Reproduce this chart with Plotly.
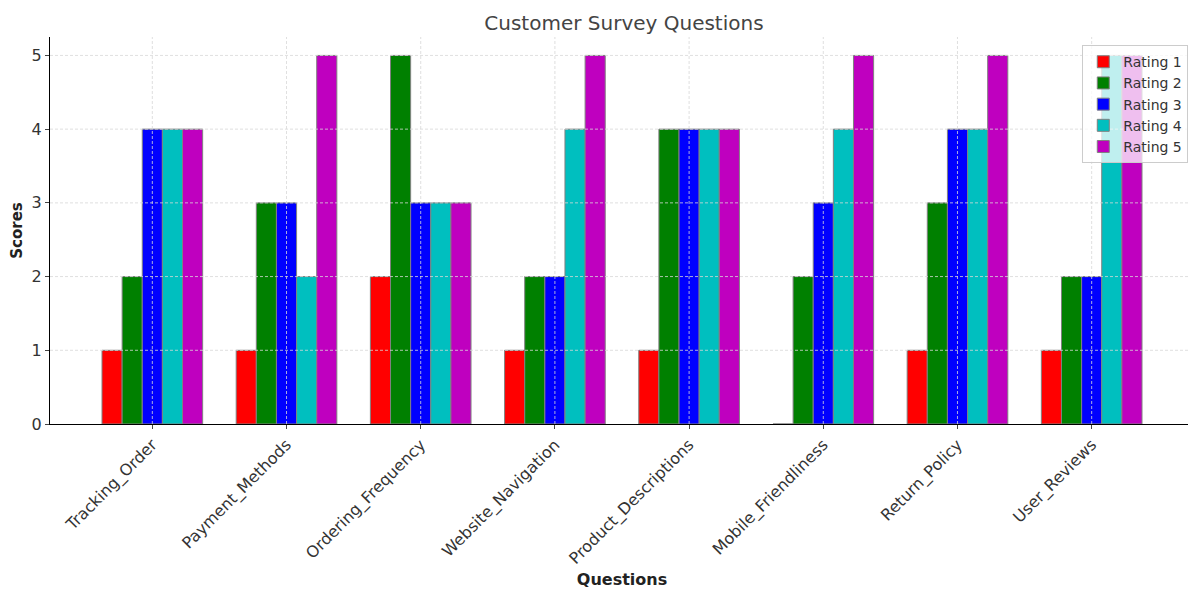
import plotly.graph_objects as go

questions = ["Tracking_Order", "Payment_Methods", "Ordering_Frequency", "Website_Navigation",
             "Product_Descriptions", "Mobile_Friendliness", "Return_Policy", "User_Reviews"]
rating_1 = [1, 1, 2, 1, 1, 0, 1, 1]
rating_2 = [2, 3, 5, 2, 4, 2, 3, 2]
rating_3 = [4, 3, 3, 2, 4, 3, 4, 2]
rating_4 = [4, 2, 3, 4, 4, 4, 4, 5]
rating_5 = [4, 5, 3, 5, 4, 5, 5, 5]
series_names = ["Rating 1", "Rating 2", "Rating 3", "Rating 4", "Rating 5"]
series_values = [rating_1, rating_2, rating_3, rating_4, rating_5]
colors = ["#ff0000", "#008000", "#0000ff", "#00bfbf", "#bf00bf"]
y_ticks = [1, 2, 3, 4, 5]

fig = go.Figure()
for name, vals, col in zip(series_names, series_values, colors):
    fig.add_trace(go.Bar(
        x=questions, y=vals, name=name,
        marker=dict(color=col, line=dict(color="#808080", width=1)),
    ))

# dashed grid drawn above the bars (as in the reference)
grid_line = dict(color="rgba(215,215,215,0.8)", width=1, dash="3px,2px")
for q in questions:
    fig.add_shape(type="line", xref="x", yref="paper", x0=q, x1=q, y0=0, y1=1,
                  line=grid_line, layer="above")
for t in y_ticks:
    fig.add_shape(type="line", xref="paper", yref="y", x0=0, x1=1, y0=t, y1=t,
                  line=grid_line, layer="above")

fig.update_layout(
    width=1196, height=594,
    barmode="group", bargap=0.25, bargroupgap=0,
    plot_bgcolor="white", paper_bgcolor="white",
    font=dict(family="DejaVu Sans", color="#333333"),
    title=dict(text="Customer Survey Questions", x=0.515, xanchor="center", y=0.975, yanchor="middle",
               font=dict(size=20, color="#444444")),
    margin=dict(l=42, r=10, t=29, b=178),
    legend=dict(x=0.995, xanchor="right", y=0.979, yanchor="top",
                bgcolor="rgba(255,255,255,0.75)", bordercolor="#cccccc", borderwidth=1,
                font=dict(size=14, color="#333333"), tracegroupgap=0),
    xaxis=dict(range=[-0.7625, 7.7625], tickangle=-45, tickfont=dict(size=16),
               automargin=False, showgrid=False,
               showline=True, linecolor="black", linewidth=1.2, ticks="outside", ticklen=4,
               title=dict(text="<b>Questions</b>", font=dict(size=16, color="#222222"), standoff=6)),
    yaxis=dict(range=[0, 5.25], tickvals=[0] + y_ticks, tickfont=dict(size=16),
               automargin=False, showgrid=False,
               showline=True, linecolor="black", linewidth=1.2, ticks="outside", ticklen=4,
               zeroline=False,
               title=dict(text="<b>Scores</b>", font=dict(size=15, color="#222222"), standoff=8)),
)
fig.write_html("out.html")
